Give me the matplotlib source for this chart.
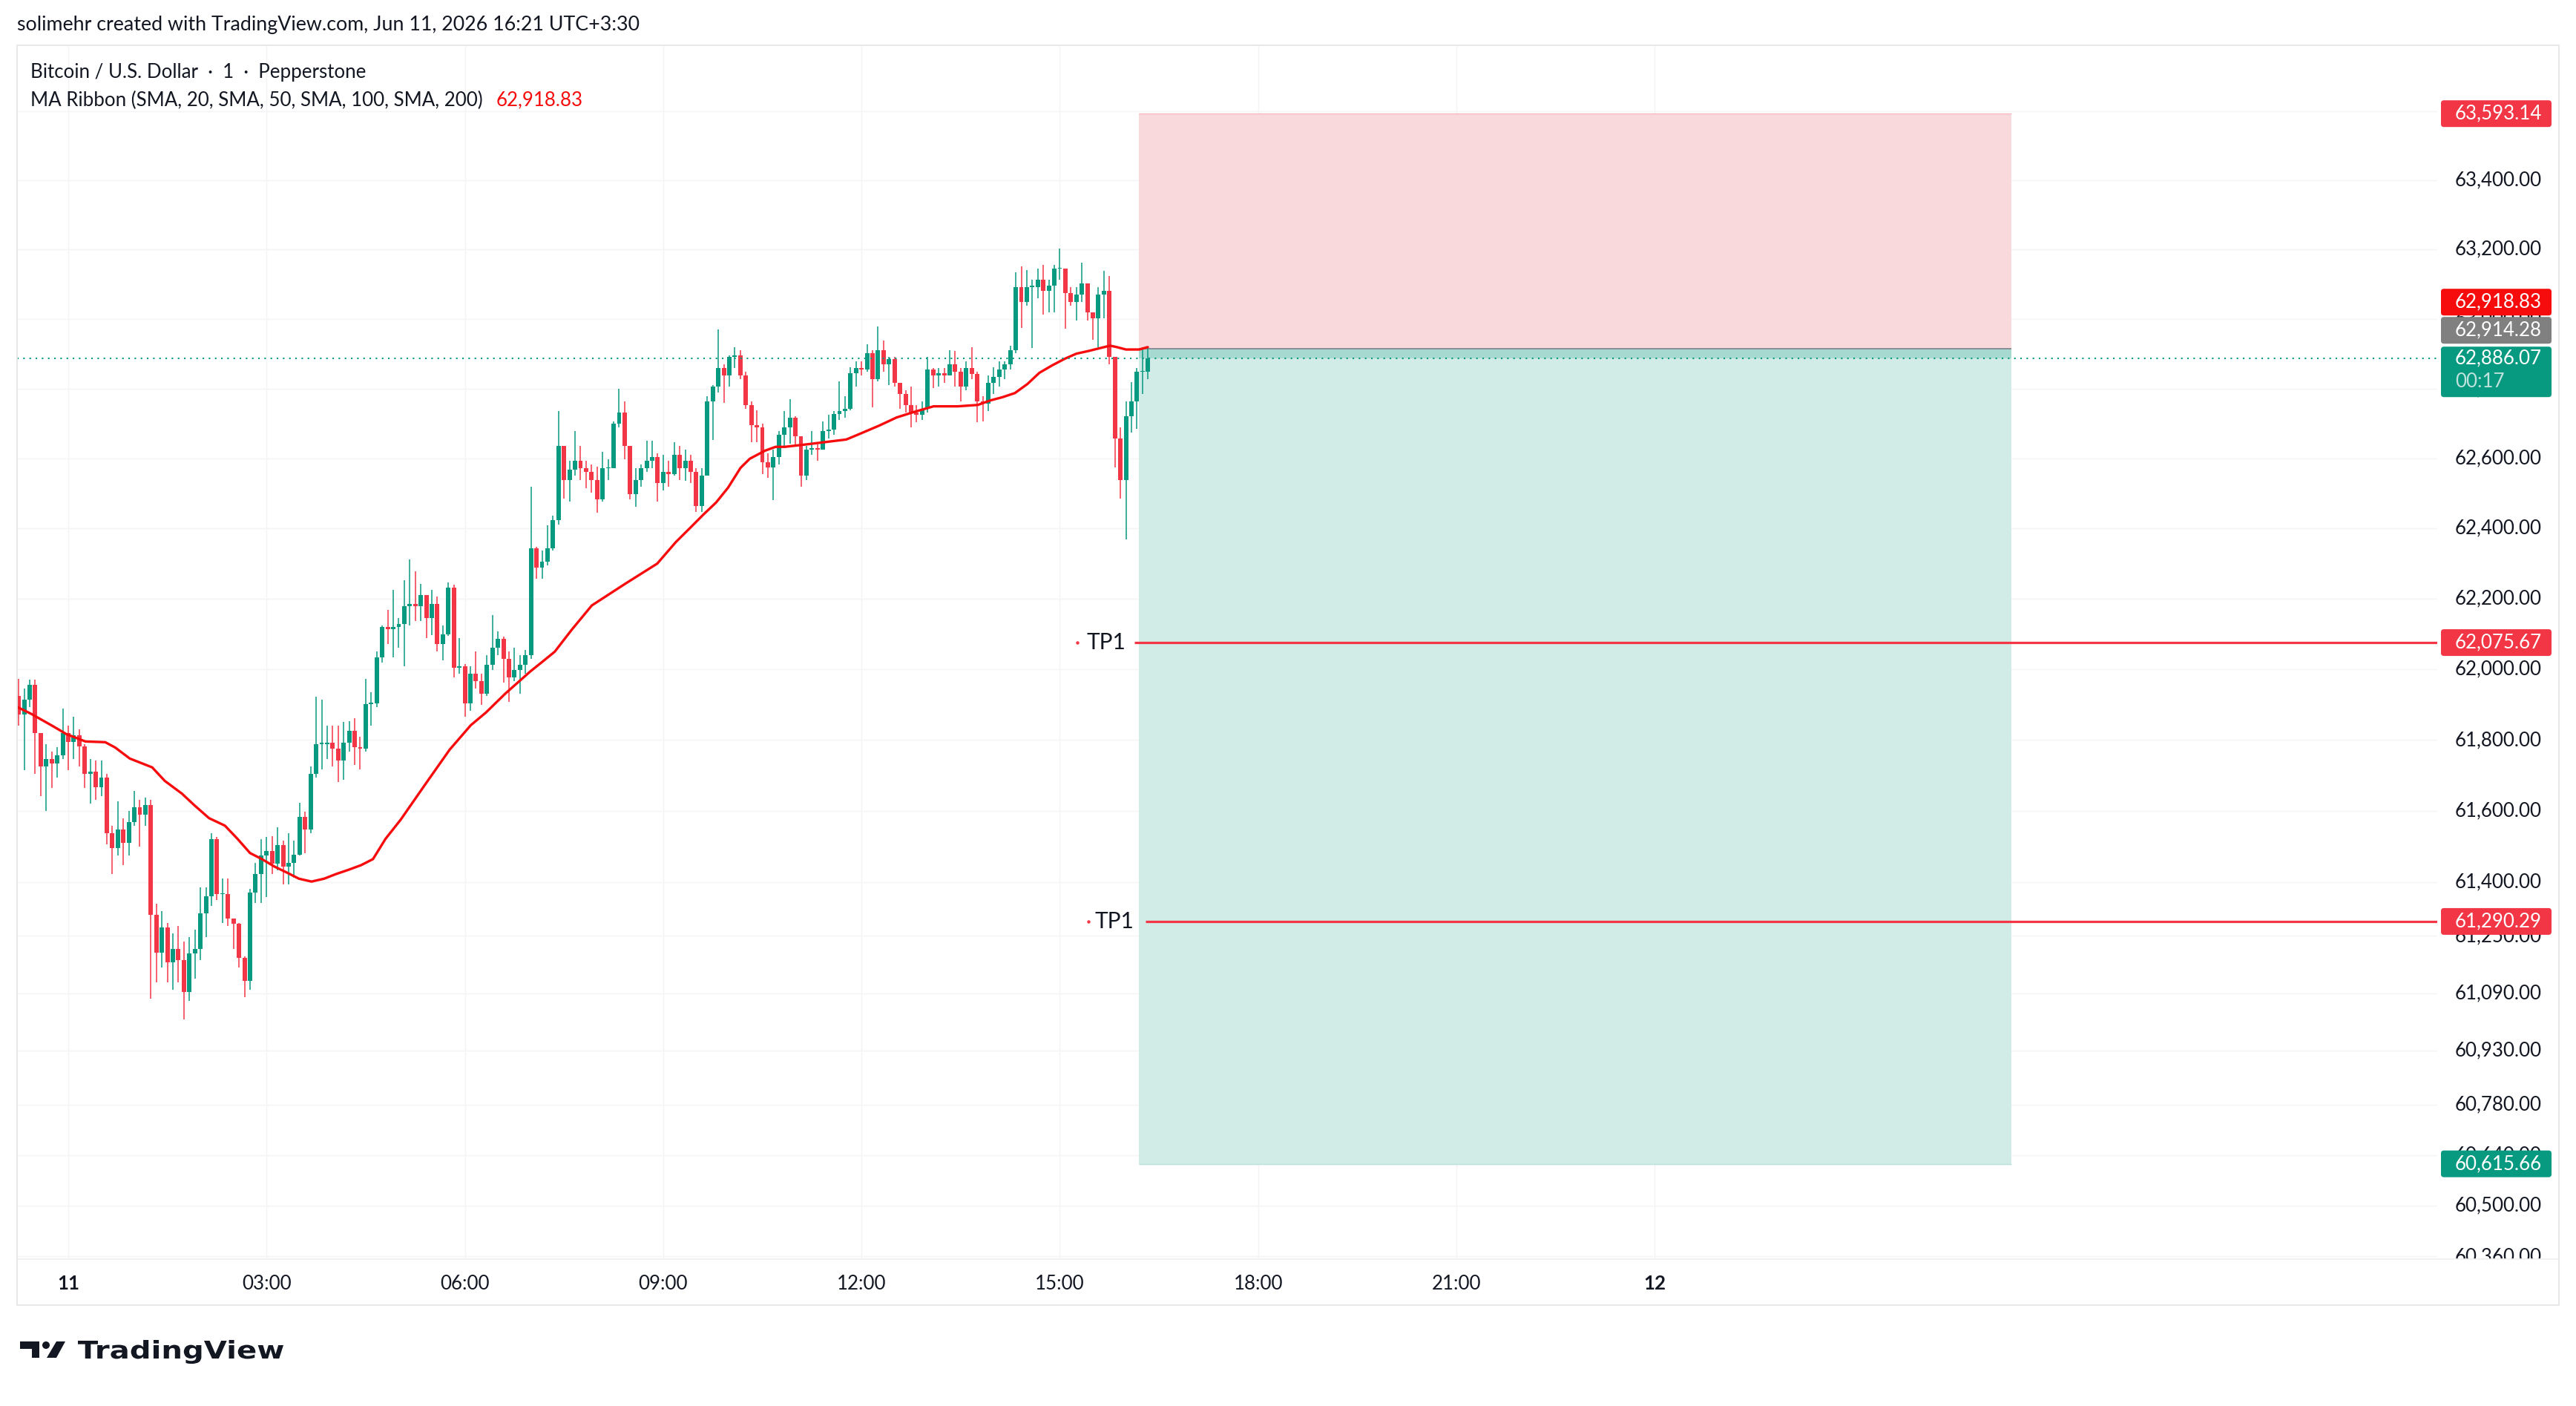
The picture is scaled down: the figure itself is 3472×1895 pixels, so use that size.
import numpy as np
import matplotlib
matplotlib.use('Agg')
import matplotlib.pyplot as plt
from matplotlib.patches import Rectangle, FancyBboxPatch, Polygon, Circle, PathPatch
from matplotlib.lines import Line2D
from matplotlib.textpath import TextPath
from matplotlib.font_manager import FontProperties
from matplotlib.transforms import Affine2D
from matplotlib.ticker import FixedLocator, NullLocator

plt.rcParams['font.family'] = ['Lato', 'DejaVu Sans']

# ---------------- data (5-minute bars) ----------------
bar_start = -0.75          # hours from Jun 11 00:00 -> 23:15 on Jun 10
bar_step = 5 / 60
first_open = 61925

closes = [
    61873, 61914, 61956, 61820, 61726, 61747, 61733, 61758, 61820, 61795,
    61814, 61783, 61705, 61712, 61668, 61695, 61538, 61496, 61549, 61511,
    61570, 61611, 61590, 61618, 61308, 61204, 61273, 61177, 61214, 61183,
    61093, 61200, 61214, 61312, 61361, 61521, 61367, 61367, 61298, 61283,
    61189, 61124, 61371, 61423, 61475, 61488, 61453, 61505, 61444, 61455,
    61478, 61584, 61549, 61705, 61789, 61789, 61793, 61776, 61743, 61793,
    61827, 61781, 61776, 61902, 61904, 62034, 62121, 62114, 62119, 62129,
    62178, 62185, 62178, 62210, 62146, 62185, 62072, 62100, 62231, 62004,
    62008, 61904, 61988, 61967, 61931, 62012, 62061, 62087, 62029, 61977,
    61998, 62012, 62040, 62344, 62289, 62306, 62344, 62423, 62635, 62539,
    62567, 62593, 62571, 62561, 62539, 62482, 62571, 62571, 62699, 62731,
    62635, 62497, 62539, 62571, 62593, 62603, 62529, 62561, 62556, 62610,
    62571, 62593, 62561, 62465, 62550, 62763, 62805, 62858, 62837, 62890,
    62894, 62837, 62752, 62695, 62688, 62588, 62575, 62603, 62667, 62688,
    62716, 62663, 62550, 62624, 62629, 62624, 62678, 62682, 62726, 62735,
    62741, 62843, 62858, 62854, 62901, 62826, 62911, 62869, 62884, 62816,
    62784, 62752, 62731, 62724, 62741, 62854, 62837, 62843, 62837, 62869,
    62848, 62805, 62858, 62841, 62763, 62756, 62816, 62833, 62854, 62869,
    62911, 63092, 63049, 63092, 63092, 63113, 63081, 63096, 63145, 63145,
    63075, 63049, 63071, 63102, 63018, 63001, 63071, 63081, 62890, 62656,
    62539, 62720, 62763, 62848, 62848, 62886.07,
]
highs = [
    61973, 61946, 61971, 61971, 61820, 61789, 61768, 61779, 61889, 61841,
    61866, 61831, 61789, 61747, 61743, 61743, 61705, 61559, 61628, 61580,
    61601, 61657, 61632, 61638, 61632, 61340, 61319, 61287, 61256, 61277,
    61235, 61246, 61267, 61386, 61386, 61538, 61528, 61411, 61411, 61298,
    61287, 61193, 61381, 61455, 61521, 61528, 61530, 61555, 61517, 61538,
    61517, 61624, 61599, 61726, 61923, 61914, 61841, 61841, 61841, 61852,
    61854, 61862, 61810, 61973, 61935, 62051, 62125, 62168, 62225, 62146,
    62253, 62312, 62278, 62242, 62210, 62225, 62206, 62125, 62246, 62240,
    62089, 62015, 62008, 62051, 61988, 62040, 62153, 62108, 62093, 62051,
    62061, 62040, 62055, 62518, 62348, 62338, 62408, 62437, 62735, 62635,
    62593, 62678, 62635, 62593, 62582, 62576, 62618, 62597, 62705, 62799,
    62763, 62635, 62571, 62582, 62650, 62650, 62614, 62610, 62593, 62646,
    62635, 62624, 62610, 62571, 62571, 62777, 62809, 62969, 62869, 62894,
    62918, 62911, 62848, 62763, 62737, 62699, 62614, 62624, 62678, 62735,
    62769, 62720, 62663, 62635, 62678, 62640, 62705, 62724, 62735, 62820,
    62777, 62862, 62879, 62879, 62928, 62911, 62979, 62937, 62890, 62890,
    62816, 62794, 62805, 62752, 62763, 62890, 62858, 62858, 62858, 62911,
    62907, 62858, 62879, 62918, 62848, 62777, 62837, 62862, 62879, 62879,
    62922, 63134, 63151, 63141, 63113, 63145, 63156, 63113, 63156, 63202,
    63145, 63092, 63092, 63162, 63102, 63018, 63092, 63139, 63124, 62890,
    62688, 62763, 62818, 62858, 62918, 62918,
]
lows = [
    61841, 61716, 61894, 61705, 61643, 61601, 61664, 61695, 61747, 61716,
    61747, 61726, 61664, 61622, 61632, 61643, 61507, 61423, 61475, 61448,
    61475, 61559, 61501, 61559, 61074, 61120, 61162, 61120, 61099, 61120,
    61016, 61068, 61131, 61183, 61246, 61333, 61350, 61287, 61277, 61214,
    61162, 61078, 61099, 61342, 61342, 61358, 61423, 61434, 61394, 61394,
    61413, 61475, 61482, 61538, 61695, 61718, 61747, 61726, 61682, 61687,
    61768, 61730, 61718, 61768, 61841, 61894, 62019, 62071, 62034, 62061,
    62008, 62125, 62136, 62136, 62089, 62097, 62051, 62025, 62095, 61977,
    61988, 61866, 61883, 61946, 61900, 61925, 61998, 62040, 61962, 61908,
    61967, 61931, 61988, 62029, 62257, 62257, 62295, 62338, 62412, 62486,
    62476, 62550, 62539, 62514, 62503, 62444, 62476, 62539, 62571, 62688,
    62597, 62482, 62461, 62518, 62561, 62571, 62476, 62508, 62518, 62550,
    62539, 62535, 62529, 62448, 62448, 62550, 62652, 62788, 62758, 62805,
    62858, 62826, 62741, 62646, 62646, 62556, 62544, 62480, 62582, 62635,
    62641, 62635, 62518, 62539, 62610, 62593, 62624, 62656, 62667, 62709,
    62716, 62737, 62805, 62837, 62848, 62746, 62820, 62848, 62809, 62805,
    62741, 62731, 62688, 62703, 62709, 62731, 62801, 62805, 62816, 62837,
    62805, 62763, 62794, 62826, 62703, 62705, 62735, 62784, 62805, 62826,
    62854, 62901, 62975, 63039, 62916, 63060, 63013, 63018, 63018, 63113,
    62971, 63039, 62996, 63049, 62996, 62939, 62918, 63001, 62869, 62575,
    62486, 62369, 62673, 62684, 62784, 62826,
]

# SMA 200 line of the MA Ribbon
ma_hours = [
    -0.79, -0.56, -0.22, -0.03, 0.26, 0.56, 0.71, 0.93, 1.27, 1.46, 1.72, 1.91,
    2.13, 2.37, 2.56, 2.75, 2.93, 3.12, 3.31, 3.49, 3.68, 3.87, 4.05, 4.24, 4.43,
    4.61, 4.80, 5.03, 5.40, 5.77, 6.09, 6.32, 6.61, 6.99, 7.17, 7.36, 7.62, 7.92,
    8.42, 8.91, 9.19, 9.42, 9.61, 9.80, 9.98, 10.17, 10.31, 10.54, 10.70, 10.84,
    11.21, 11.77, 11.96, 12.27, 12.53, 12.78, 13.09, 13.46, 13.76, 13.95, 14.13,
    14.32, 14.51, 14.69, 14.88, 15.07, 15.25, 15.44, 15.63, 15.76, 15.86, 16.00,
    16.20, 16.33,
]
ma_values = [
    61895, 61874, 61838, 61817, 61796, 61794, 61779, 61748, 61723, 61685, 61649, 61616,
    61580, 61559, 61522, 61482, 61465, 61444, 61427, 61410, 61402, 61410, 61423, 61435, 61448,
    61465, 61522, 61576, 61675, 61773, 61842, 61878, 61931, 61994, 62021, 62050, 62113, 62181,
    62242, 62300, 62361, 62404, 62440, 62474, 62516, 62573, 62599, 62622, 62633, 62633,
    62641, 62654, 62669, 62694, 62717, 62732, 62749, 62749, 62753, 62766, 62775,
    62787, 62813, 62845, 62866, 62885, 62900, 62908, 62917, 62923, 62919, 62912,
    62912, 62918.83,
]

last_price = 62886.07
ma_last = 62918.83
entry_price = 62914.28
stop_price = 63593.14
target_price = 60615.66
tp_prices = [62075.67, 61290.29]
countdown = '00:17'

# short position tool anchors and TP line anchors (hours)
box_hours = (16.195, 29.394)
tp_start_hours = [16.13, 16.30]
tp_text_hours = [16.0, 16.12]
tp_dot_hours = [15.26, 15.43]

price_ticks = [63600, 63400, 63200, 63000, 62800, 62600, 62400, 62200, 62000,
               61800, 61600, 61400, 61250, 61090, 60930, 60780, 60640, 60500, 60360]
time_ticks = [0, 3, 6, 9, 12, 15, 18, 21, 24]
time_labels = ['11', '03:00', '06:00', '09:00', '12:00', '15:00', '18:00', '21:00', '12']

# ---------------- style ----------------
W, H, DPI = 3473, 1895, 100
GREEN = '#089981'
RED = '#f23645'
MA_RED = '#f60c0c'
INK = '#131722'
FS = 18.6

fig = plt.figure(figsize=(W / DPI, H / DPI), dpi=DPI)
fig.patch.set_facecolor('white')
px = Affine2D().scale(1 / W, 1 / H) + fig.transFigure   # pixel coords, origin bottom-left


def top(y):
    return H - y


PANE_L, PANE_R, PANE_T, PANE_B, FRAME_R = 23, 3285, 62, 1697, 3449
ax = fig.add_axes([PANE_L / W, top(PANE_B) / H, (PANE_R - PANE_L) / W, (PANE_B - PANE_T) / H])
ax.set_yscale('log')
for s in ax.spines.values():
    s.set_visible(False)

# candles
n = len(closes)
t = bar_start + np.arange(n) * bar_step
c = np.array(closes, dtype=float)
o = np.concatenate([[first_open], c[:-1]])
hi = np.maximum(np.array(highs, dtype=float), np.maximum(o, c))
lo = np.minimum(np.array(lows, dtype=float), np.minimum(o, c))
cols = np.where(c >= o, GREEN, RED)
ax.vlines(t, lo, hi, colors=cols, lw=1.1, zorder=3)
ax.bar(t, np.maximum(np.abs(c - o), 3), bottom=np.minimum(o, c), width=bar_step * 0.8,
       color=cols, lw=0, zorder=3)

# MA ribbon (SMA 200)
ax.plot(ma_hours, ma_values, color=MA_RED, lw=2.4, zorder=4, solid_capstyle='round')

# short position tool
bx0, bx1 = box_hours
ax.add_patch(Rectangle((bx0, entry_price), bx1 - bx0, stop_price - entry_price,
                       fc='#fad9dc', ec='none', zorder=1))
ax.add_patch(Rectangle((bx0, target_price), bx1 - bx0, entry_price - target_price,
                       fc='#d1ebe6', ec='none', zorder=1))
ax.add_patch(Rectangle((bx0, last_price), bx1 - bx0, entry_price - last_price,
                       fc='#a6d9cf', ec='none', zorder=1.5))
ax.hlines(stop_price, bx0, bx1, color='#f7b9be', lw=1.0, zorder=2)
ax.hlines(target_price, bx0, bx1, color='#b9e0d9', lw=1.0, zorder=2)
ax.hlines(entry_price, bx0, bx1, color='#8a8d96', lw=1.4, zorder=2)

XLIM = (-0.774, 35.836)
YLIM = (60352.6, 63789.9)

# TP lines
for p, xs, xt, xd in zip(tp_prices, tp_start_hours, tp_text_hours, tp_dot_hours):
    ax.hlines(p, xs, XLIM[1], color=RED, lw=2.3, zorder=4)
    ax.text(xt, p, 'TP1', ha='right', va='center', fontsize=21.5, color=INK, zorder=6)
    ax.plot([xd], [p], 'o', ms=2.2, color=RED, zorder=6)

# current price line
ax.axhline(last_price, color=GREEN, lw=1.5, ls=(0, (1, 3)), zorder=5)

ax.set_xlim(*XLIM)
ax.set_ylim(*YLIM)
ax.yaxis.set_major_locator(FixedLocator(price_ticks))
ax.yaxis.set_minor_locator(NullLocator())
ax.tick_params(axis='y', left=False, right=False, labelleft=False, labelright=False)
ax.set_xticks(time_ticks, time_labels)
ax.tick_params(axis='x', length=0, pad=15.0, labelsize=FS, labelcolor=INK)
for lab in (ax.get_xticklabels()[0], ax.get_xticklabels()[-1]):
    lab.set_fontweight('bold')
ax.grid(True, color='#f3f4f6', lw=1.0, zorder=0)
ax.set_axisbelow(True)

# price scale
pax = fig.add_axes([PANE_R / W, top(PANE_B) / H, (FRAME_R - PANE_R) / W, (PANE_B - PANE_T) / H],
                   sharey=ax)
pax.set_xlim(PANE_R, FRAME_R)
pax.axis('off')
for p in price_ticks:
    pax.text(3309, p, f'{p:,.2f}', ha='left', va='center', fontsize=FS, color=INK, clip_on=True)


def price_y(p):
    return px.inverted().transform(ax.transData.transform((0, p)))[1]


def tag(y0, h, color):
    fig.add_artist(FancyBboxPatch((3290, y0), 149, h, boxstyle='round,pad=0,rounding_size=4',
                                  transform=px, fc=color, ec='none', zorder=10))


def tag_text(yc, s, color='white'):
    fig.text(3309, yc, s, transform=px, ha='left', va='center', fontsize=FS, color=color, zorder=11)


for p, col in [(stop_price, RED), (tp_prices[0], RED), (tp_prices[1], RED), (target_price, GREEN)]:
    yc = price_y(p)
    tag(yc - 18, 36, col)
    tag_text(yc, f'{p:,.2f}')

yc_last = price_y(last_price)
tag(yc_last - 52, 68, GREEN)
tag_text(yc_last, f'{last_price:,.2f}')
tag_text(yc_last - 31, countdown, '#bfe3dc')
yc_entry = yc_last + 38
tag(yc_entry - 18, 36, '#808080')
tag_text(yc_entry, f'{entry_price:,.2f}')
yc_ma = yc_entry + 38
tag(yc_ma - 18, 36, MA_RED)
tag_text(yc_ma, f'{ma_last:,.2f}')

# frame
fig.add_artist(Rectangle((PANE_L, top(1759)), FRAME_R - PANE_L, 1759 - 61, transform=px,
                         fill=False, ec='#e8e8e8', lw=1.4, zorder=12))
fig.add_artist(Line2D([PANE_L, FRAME_R], [top(PANE_B)] * 2, transform=px, color='#efefef', lw=1.2))

# header and legend
fig.text(23, top(33), 'solimehr created with TradingView.com, Jun 11, 2026 16:21 UTC+3:30',
         transform=px, ha='left', va='center', fontsize=19.3, color=INK)
fig.text(41, top(97), 'Bitcoin / U.S. Dollar  ·  1  ·  Pepperstone',
         transform=px, ha='left', va='center', fontsize=FS, color=INK)
leg = fig.text(41, top(135), 'MA Ribbon (SMA, 20, SMA, 50, SMA, 100, SMA, 200)',
               transform=px, ha='left', va='center', fontsize=FS, color=INK)
r = fig.canvas.get_renderer()
x_end = px.inverted().transform(leg.get_window_extent(r).p1)[0]
fig.text(x_end + 18, top(135), f'{ma_last:,.2f}', transform=px, ha='left', va='center',
         fontsize=FS, color=MA_RED)

# TradingView logo
icon = [(27, 1808), (53, 1808), (53, 1830), (43, 1830), (43, 1818), (27, 1818)]
fig.add_artist(Polygon([(x, top(y)) for x, y in icon], closed=True, transform=px, fc=INK, ec='none'))
fig.add_artist(Circle((62, top(1813)), 5, transform=px, fc=INK, ec='none'))
slash = [(63, 1830), (76, 1830), (88, 1808), (76, 1808)]
fig.add_artist(Polygon([(x, top(y)) for x, y in slash], closed=True, transform=px, fc=INK, ec='none'))
fp = FontProperties(family='DejaVu Sans', weight='bold')
word = TextPath((0, 0), 'TradingView', size=100, prop=fp)
cap = TextPath((0, 0), 'T', size=100, prop=fp).get_extents().height
ext = word.get_extents()
tr = Affine2D().translate(-ext.x0, 0).scale((382 - 105) / ext.width, 24 / cap).translate(105, top(1831)) + px
fig.add_artist(PathPatch(word, transform=tr, fc=INK, ec='none'))

fig.savefig('out.png', dpi=DPI, facecolor='white')
